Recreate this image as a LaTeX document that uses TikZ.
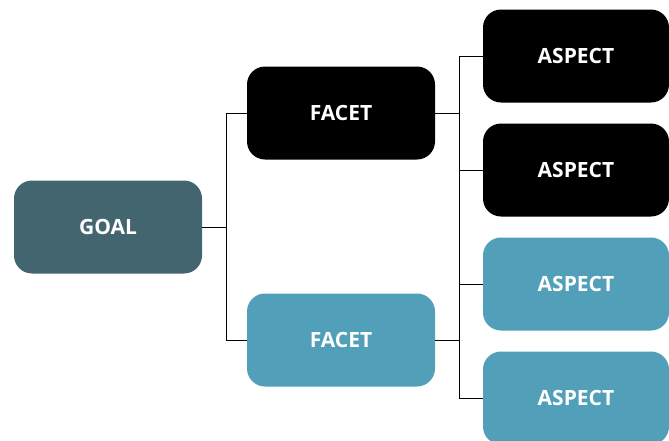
\documentclass[tikz,border=0pt]{standalone}
\usepackage{xcolor}
\usepackage{fontspec}
\setmainfont{Open Sans}
\usetikzlibrary{positioning}
\definecolor{goalslate}{RGB}{66,101,112}
\definecolor{facetblue}{RGB}{81,159,184}

\begin{document}
\begin{tikzpicture}[x=1pt,y=-1pt,
  box/.style={rounded corners=18pt,minimum width=188pt,minimum height=93pt,inner sep=0pt,align=center,text=white,font=\fontsize{21}{25}\selectfont\bfseries},
  aspectbox/.style={box,minimum width=186pt},
  link/.style={draw=black,line width=0.9pt}
]
\useasboundingbox (0,0) rectangle (669,440);
% Goal
\node[box,fill=goalslate]  (goal) at (108,227) {GOAL};
% Facets
\node[box,fill=black]      (fa)   at (341,113) {FACET};
\node[box,fill=facetblue]  (fb)   at (341,340) {FACET};
% Aspects
\node[aspectbox,fill=black]     (a1) at (576,56)  {ASPECT};
\node[aspectbox,fill=black]     (a2) at (576,170) {ASPECT};
\node[aspectbox,fill=facetblue] (a3) at (576,284) {ASPECT};
\node[aspectbox,fill=facetblue] (a4) at (576,398) {ASPECT};

% Connectors
\draw[link] (goal.east) -- ++(24,0) coordinate (jg);
\draw[link] (jg) |- (fa.west);
\draw[link] (jg) |- (fb.west);
\draw[link] (fa.east) -- ++(24,0) coordinate (ja);
\draw[link] (fb.east) -- ++(24,0) coordinate (jb);
\draw[link] (ja) -- (jb);
\draw[link] (ja) |- (a1.west);
\draw[link] (ja) |- (a2.west);
\draw[link] (jb) |- (a3.west);
\draw[link] (jb) |- (a4.west);
\end{tikzpicture}
\end{document}
